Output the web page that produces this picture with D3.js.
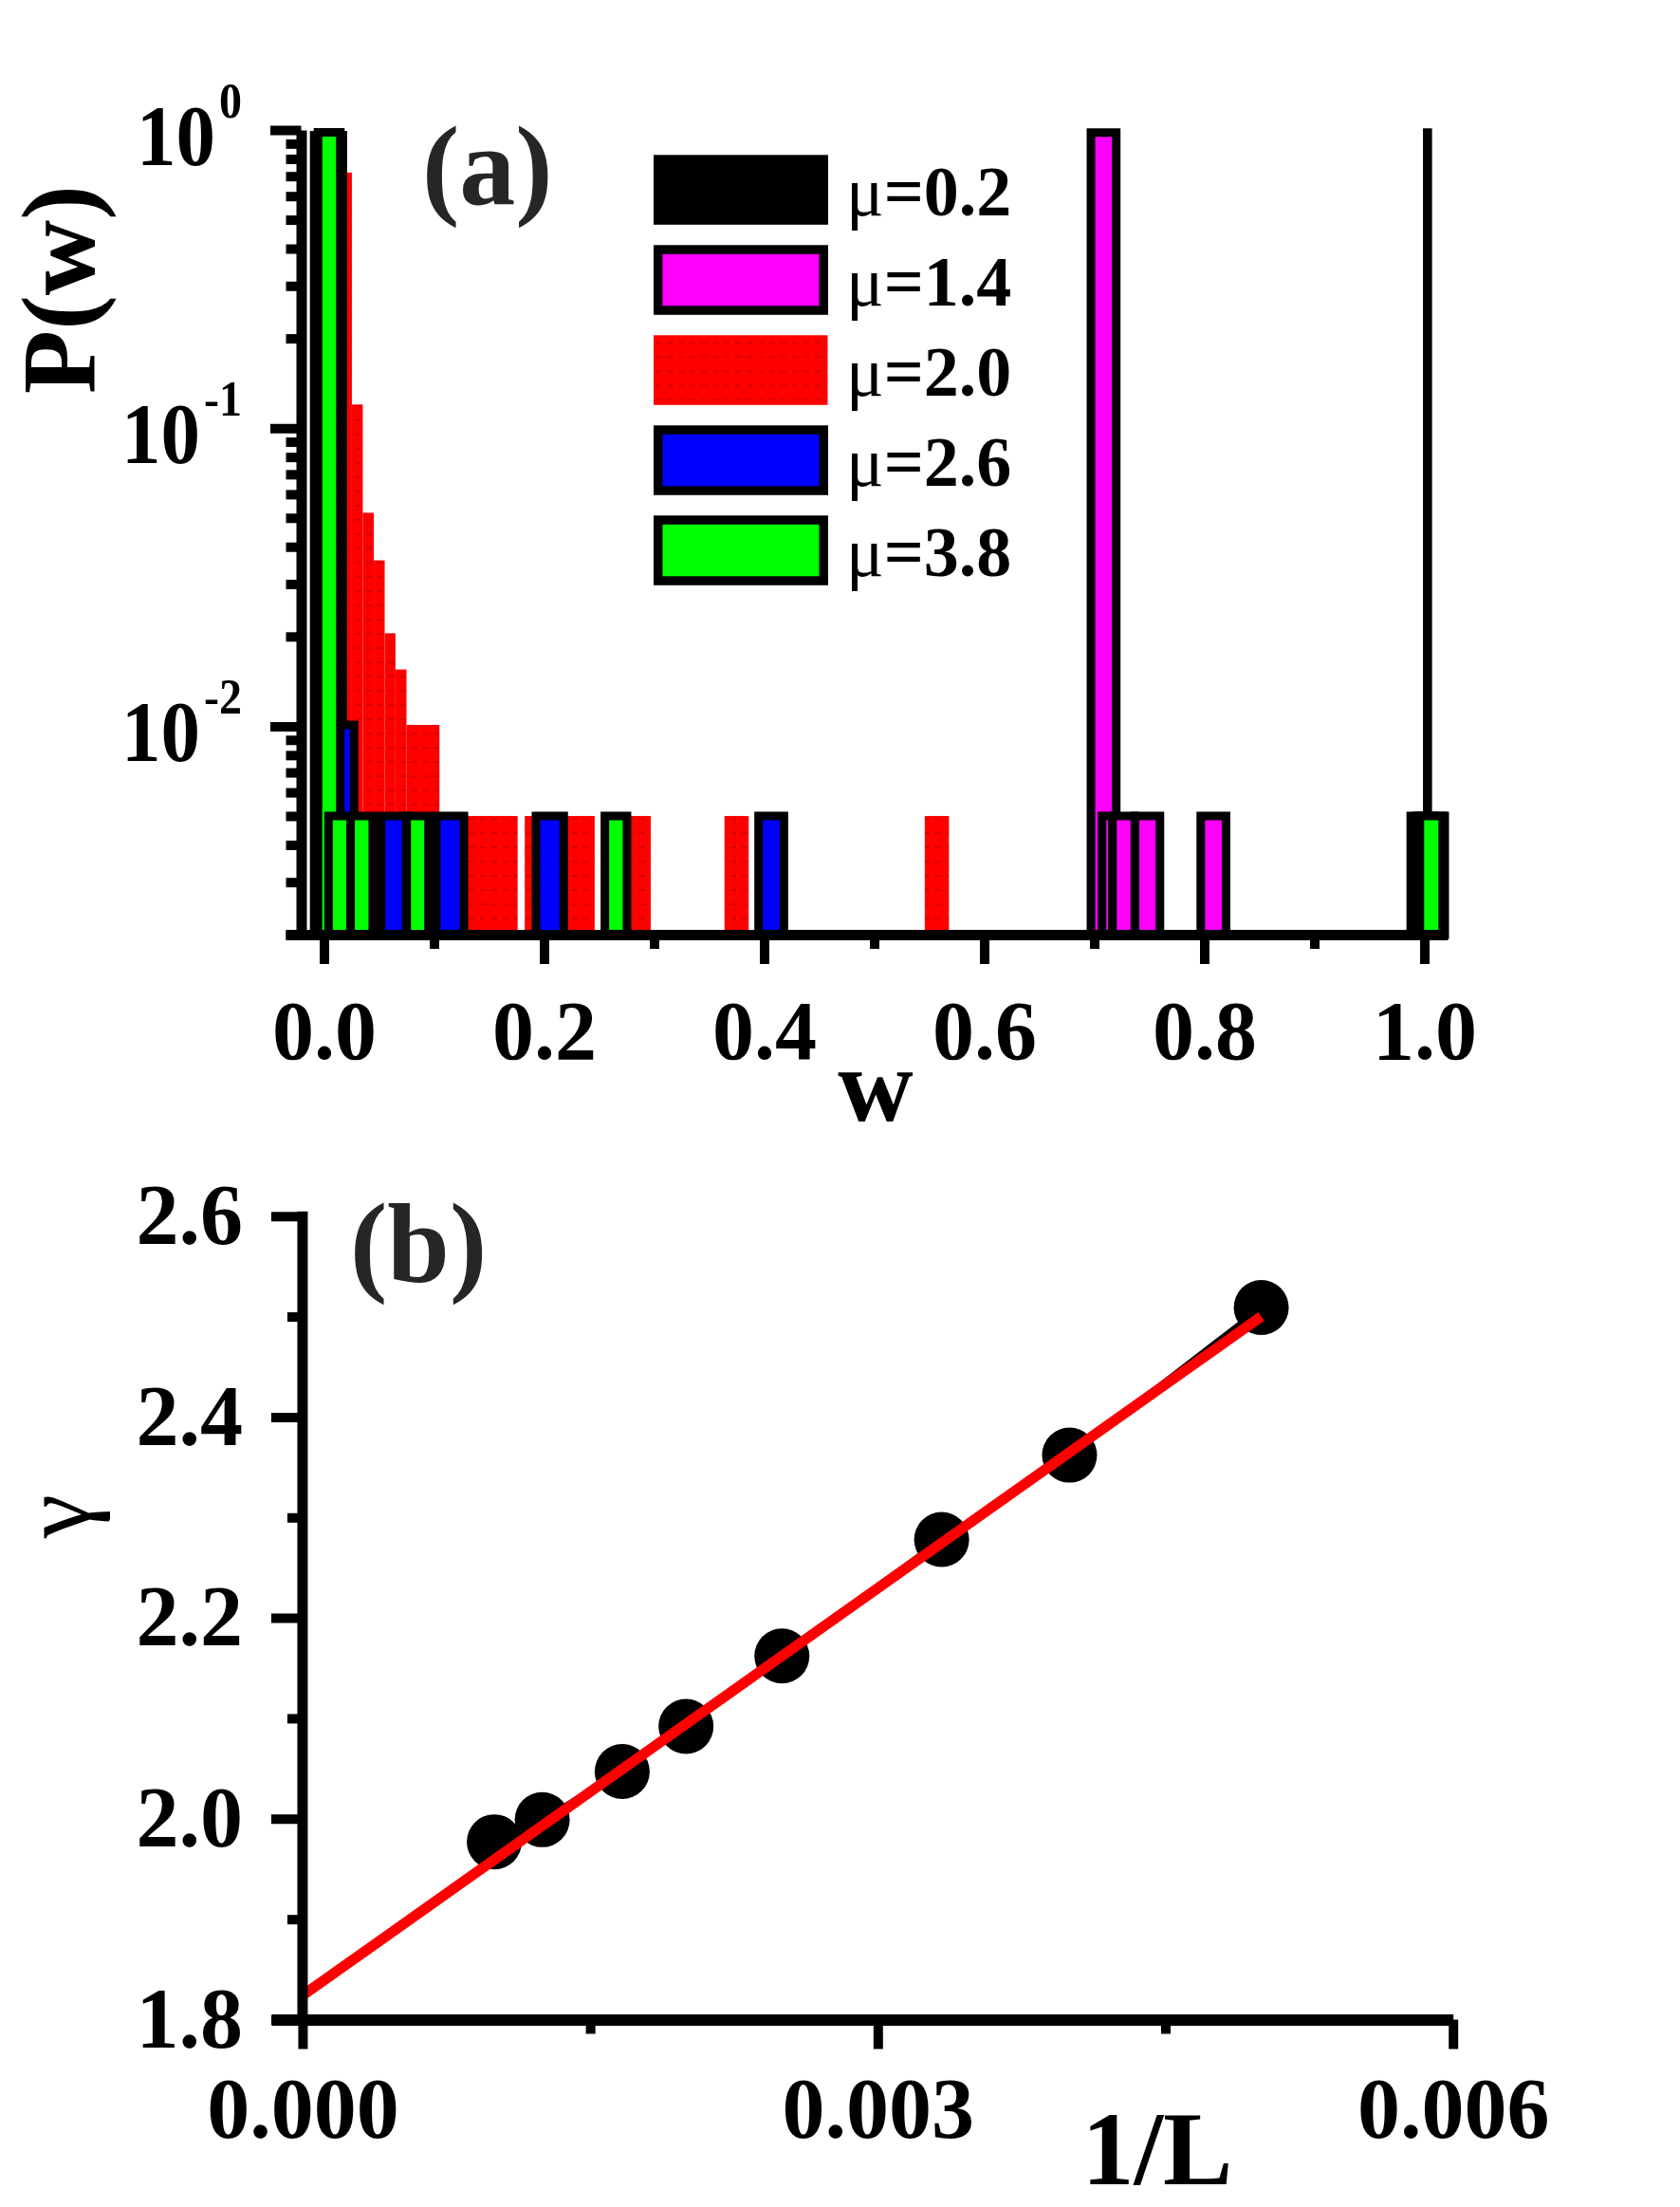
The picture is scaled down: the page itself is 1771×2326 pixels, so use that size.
<!DOCTYPE html>
<html>
<head>
<meta charset="utf-8">
<title>P(w) and gamma vs 1/L</title>
<script src="https://d3js.org/d3.v7.min.js"></script>
<style>
body { margin: 0; background: #fff; }
svg text { font-family: "Liberation Serif", "Times New Roman", serif; }
</style>
</head>
<body>
<div id="chart"></div>
<script>
var W = 1771, H = 2326;

// ---- panel (a): histograms, each bar is [w0, w1, P] ----
var muLabels = ["0.2", "1.4", "2.0", "2.6", "3.8"];
var muColors = ["#000000", "#ff00ff", "#ff0000", "#0000ff", "#00ff00"];
var muStroked = [true, true, false, true, true];

var barsMu02 = [[1.0026, 1.0031, 0.98]];
var barsMu14 = [[0.697, 0.720, 0.98], [0.7071, 0.7165, 0.005], [0.7166, 0.7368, 0.005],
                [0.7371, 0.7597, 0.005], [0.7968, 0.8198, 0.005], [0.9876, 1.0086, 0.005]];
var barsMu20 = [[0.015, 0.0254, 0.72], [0.0254, 0.0353, 0.12], [0.0353, 0.0453, 0.052],
                [0.0453, 0.0552, 0.036], [0.0552, 0.065, 0.0205], [0.065, 0.075, 0.0155],
                [0.075, 0.105, 0.0101], [0.125, 0.176, 0.005], [0.1825, 0.195, 0.005],
                [0.215, 0.246, 0.005], [0.272, 0.297, 0.005], [0.364, 0.386, 0.005],
                [0.546, 0.568, 0.005]];
var barsMu26 = [[-0.0089, 0.0172, 0.96], [0.0074, 0.0274, 0.0101], [0.0519, 0.0748, 0.005],
                [0.1021, 0.1272, 0.005], [0.1927, 0.2179, 0.005], [0.395, 0.418, 0.005],
                [0.9927, 1.0185, 0.005]];
var barsMu38 = [[-0.0054, 0.0149, 0.982], [0.0042, 0.0242, 0.005], [0.0242, 0.0444, 0.005],
                [0.0752, 0.095, 0.005], [0.2553, 0.2754, 0.005], [0.9959, 1.0166, 0.005]];
var allBars = [barsMu02, barsMu14, barsMu20, barsMu26, barsMu38];

var xTicksA = [0, 0.2, 0.4, 0.6, 0.8, 1.0];
var xMinorA = [0.1, 0.3, 0.5, 0.7, 0.9];
var yTicksA = [1, 0.1, 0.01];

// ---- panel (b): gamma vs 1/L ----
var invL  = [0.001, 0.00125, 0.001667, 0.002, 0.0025, 0.003333, 0.004, 0.005];
var gamma = [1.977, 1.999, 2.047, 2.092, 2.162, 2.278, 2.362, 2.509];
var fitX = [0, 0.005];
var fitY = [1.824, 2.500];
var xTicksB = [0, 0.003, 0.006];
var xMinorB = [0.0015, 0.0045];
var yTicksB = [1.8, 2.0, 2.2, 2.4, 2.6];
var yMinorB = [1.9, 2.1, 2.3, 2.5];

var svg = d3.select("#chart").append("svg")
    .attr("width", W).attr("height", H)
    .style("display", "block");

// red fill with sparse dark dashes for the mu=2.0 bars
var pat = svg.append("defs").append("pattern")
    .attr("id", "redPat").attr("patternUnits", "userSpaceOnUse")
    .attr("width", 12).attr("height", 15);
pat.append("rect").attr("width", 12).attr("height", 15).attr("fill", "#ff0000");
pat.append("line").attr("x1", 2).attr("x2", 8).attr("y1", 8).attr("y2", 8)
    .attr("stroke", "#300000").attr("stroke-width", 1).attr("opacity", 0.35);

function fillOf(i) { return i == 2 ? "url(#redPat)" : muColors[i]; }

function styleAxis(g, lw) {
  g.select(".domain").attr("stroke", "#000").attr("stroke-width", lw);
  g.selectAll(".tick line").attr("stroke", "#000").attr("stroke-width", 10);
  g.selectAll(".tick text").attr("fill", "#000");
}

/* ================= panel (a) ================= */
var xa = d3.scaleLinear().domain([-0.0349, 1.0211]).range([301, 1526]);
var ya = d3.scaleLog().domain([0.002, 1]).range([985, 137]);

var gBars = svg.append("g");
allBars.forEach(function(bars, i) {
  gBars.append("g").selectAll("rect")
    .data(bars)
    .enter().append("rect")
    .attr("x", function(d) { return xa(d[0]); })
    .attr("width", function(d) { return xa(d[1]) - xa(d[0]); })
    .attr("y", function(d) { return ya(d[2]); })
    .attr("height", function(d) { return ya.range()[0] - ya(d[2]); })
    .attr("fill", fillOf(i))
    .attr("stroke", muStroked[i] ? "#000" : "none")
    .attr("stroke-width", 9);
});

// x axis
var gxa = svg.append("g").attr("transform", "translate(0," + ya.range()[0] + ")");
gxa.call(d3.axisBottom(xa).tickValues(xTicksA).tickSize(31).tickSizeOuter(0)
    .tickFormat(d3.format(".1f")));
styleAxis(gxa, 11);
gxa.selectAll(".tick text")
    .attr("y", 131).attr("dy", 0)
    .attr("font-size", 88).attr("font-weight", "bold")
    .attr("font-family", "Liberation Serif, Times New Roman, serif");
var gxaMin = svg.append("g").attr("transform", "translate(0," + ya.range()[0] + ")");
gxaMin.call(d3.axisBottom(xa).tickValues(xMinorA).tickSize(15).tickSizeOuter(0).tickFormat(""));
gxaMin.select(".domain").remove();
styleAxis(gxaMin, 11);

// y axis (log), labels 10^k drawn a little tall like the original
var gya = svg.append("g").attr("transform", "translate(317.5,0)");
gya.call(d3.axisLeft(ya).tickValues(yTicksA).tickSize(32.5).tickSizeOuter(0).tickFormat(""));
styleAxis(gya, 11);
gya.selectAll(".tick text").remove();
gya.selectAll(".tick").each(function(d) {
  var t = d3.select(this).append("text")
      .attr("transform", "translate(-62.5,36.5) scale(1,1.1)")
      .attr("text-anchor", "end")
      .attr("font-weight", "bold")
      .attr("font-size", 83)
      .attr("fill", "#000");
  t.append("tspan").text("10");
  t.append("tspan").attr("font-size", 48).attr("dx", 4).attr("dy", -45.5)
      .text(String(Math.round(Math.log10(d))));
});
var gyaMin = svg.append("g").attr("transform", "translate(317.5,0)");
gyaMin.call(d3.axisLeft(ya)
    .tickValues(ya.ticks().filter(function(v) {
      return Math.abs(Math.log10(v) - Math.round(Math.log10(v))) > 1e-6;
    }))
    .tickSize(16).tickSizeOuter(0).tickFormat(""));
gyaMin.select(".domain").remove();
styleAxis(gyaMin, 11);

// legend
var leg = svg.append("g").selectAll("g")
    .data(muLabels)
    .enter().append("g")
    .attr("transform", function(d, i) { return "translate(689," + (163.3 + i * 95) + ")"; });
leg.append("rect")
    .attr("x", function(d, i) { return muStroked[i] ? 4.75 : 0; })
    .attr("y", function(d, i) { return muStroked[i] ? 4.75 : 0; })
    .attr("width", function(d, i) { return muStroked[i] ? 174.5 : 183.5; })
    .attr("height", function(d, i) { return muStroked[i] ? 64 : 73.5; })
    .attr("fill", function(d, i) { return fillOf(i); })
    .attr("stroke", function(d, i) { return muStroked[i] ? "#000" : "none"; })
    .attr("stroke-width", 9.5);
var legText = leg.append("text")
    .attr("x", 203).attr("y", 64)
    .attr("font-size", 74).attr("fill", "#000");
legText.append("tspan").text("\u03bc");
legText.append("tspan").attr("font-weight", "bold").text(function(d) { return "=" + d; });

// labels
svg.append("text").attr("x", 445).attr("y", 215)
    .attr("font-size", 118).attr("font-weight", "bold").attr("fill", "#262626")
    .text("(a)");
svg.append("text").attr("transform", "translate(99,305) rotate(-90)")
    .attr("text-anchor", "middle")
    .attr("font-size", 110).attr("font-weight", "bold").attr("fill", "#000")
    .text("P(w)");
svg.append("text").attr("x", 923).attr("y", 1181)
    .attr("text-anchor", "middle")
    .attr("font-size", 110).attr("font-weight", "bold").attr("fill", "#000")
    .text("w");

/* ================= panel (b) ================= */
var xb = d3.scaleLinear().domain([-0.000163, 0.006]).range([286, 1531.7]);
var yb = d3.scaleLinear().domain([1.8, 2.6]).range([2128.5, 1281.7]);

// line through the points, then the linear fit
var pts = invL.map(function(v, i) { return [v, gamma[i]]; });
var line = d3.line().x(function(d) { return xb(d[0]); }).y(function(d) { return yb(d[1]); });

svg.append("path").datum(pts)
    .attr("d", line)
    .attr("fill", "none").attr("stroke", "#000").attr("stroke-width", 6);

svg.append("g").selectAll("circle")
    .data(pts)
    .enter().append("circle")
    .attr("cx", function(d) { return xb(d[0]); })
    .attr("cy", function(d) { return yb(d[1]); })
    .attr("r", 29)
    .attr("fill", "#000");

svg.append("path").datum(fitX.map(function(v, i) { return [v, fitY[i]]; }))
    .attr("d", line)
    .attr("fill", "none").attr("stroke", "#ff0000").attr("stroke-width", 11);

// x axis
var gxb = svg.append("g").attr("transform", "translate(0," + yb.range()[0] + ")");
gxb.call(d3.axisBottom(xb).tickValues(xTicksB).tickSize(31).tickSizeOuter(0)
    .tickFormat(d3.format(".3f")));
styleAxis(gxb, 12);
gxb.selectAll(".tick text")
    .attr("y", 124.5).attr("dy", 0)
    .attr("font-size", 90).attr("font-weight", "bold")
    .attr("font-family", "Liberation Serif, Times New Roman, serif");
var gxbMin = svg.append("g").attr("transform", "translate(0," + yb.range()[0] + ")");
gxbMin.call(d3.axisBottom(xb).tickValues(xMinorB).tickSize(15).tickSizeOuter(0).tickFormat(""));
gxbMin.select(".domain").remove();
styleAxis(gxbMin, 12);

// y axis
var gyb = svg.append("g").attr("transform", "translate(" + xb(0) + ",0)");
gyb.call(d3.axisLeft(yb).tickValues(yTicksB).tickSize(33).tickSizeOuter(0)
    .tickFormat(d3.format(".1f")));
styleAxis(gyb, 11);
gyb.select(".domain").attr("d", "M0," + (yb.range()[1] - 5) + "V" + yb.range()[0]);
gyb.selectAll(".tick text")
    .attr("x", -63).attr("dy", "0.32em")
    .attr("font-size", 90).attr("font-weight", "bold")
    .attr("font-family", "Liberation Serif, Times New Roman, serif");
var gybMin = svg.append("g").attr("transform", "translate(" + xb(0) + ",0)");
gybMin.call(d3.axisLeft(yb).tickValues(yMinorB).tickSize(16).tickSizeOuter(0).tickFormat(""));
gybMin.select(".domain").remove();
styleAxis(gybMin, 11);

// labels
svg.append("text").attr("x", 369).attr("y", 1350)
    .attr("font-size", 118).attr("font-weight", "bold").attr("fill", "#262626")
    .text("(b)");
svg.append("text").attr("transform", "translate(94,1598) rotate(-90)")
    .attr("text-anchor", "middle")
    .attr("font-size", 104).attr("fill", "#000")
    .text("\u03b3");
svg.append("text").attr("x", 1220).attr("y", 2302)
    .attr("text-anchor", "middle")
    .attr("font-size", 110).attr("font-weight", "bold").attr("fill", "#000")
    .text("1/L");
</script>
</body>
</html>
